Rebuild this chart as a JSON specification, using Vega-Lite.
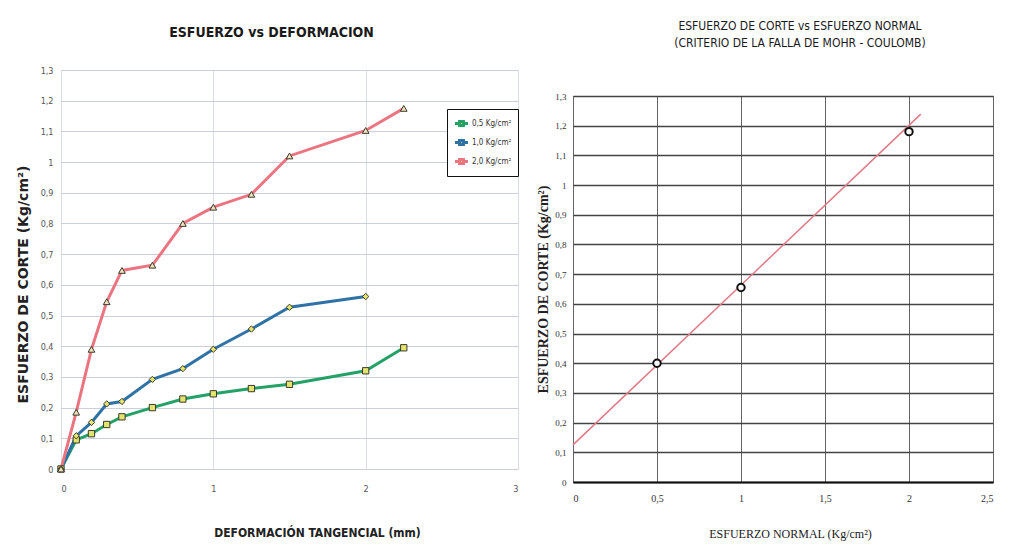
{
  "$schema": "https://vega.github.io/schema/vega-lite/v6.json",
  "background": "white",
  "padding": {"left": 16, "top": 20, "right": 5, "bottom": 5},
  "spacing": 18,
  "datasets": {
    "def": [
      {"d": 0, "t": 0, "s": "0,5 Kg/cm²"},
      {"d": 0.1, "t": 0.095, "s": "0,5 Kg/cm²"},
      {"d": 0.2, "t": 0.115, "s": "0,5 Kg/cm²"},
      {"d": 0.3, "t": 0.145, "s": "0,5 Kg/cm²"},
      {"d": 0.4, "t": 0.17, "s": "0,5 Kg/cm²"},
      {"d": 0.6, "t": 0.2, "s": "0,5 Kg/cm²"},
      {"d": 0.8, "t": 0.228, "s": "0,5 Kg/cm²"},
      {"d": 1.0, "t": 0.245, "s": "0,5 Kg/cm²"},
      {"d": 1.25, "t": 0.262, "s": "0,5 Kg/cm²"},
      {"d": 1.5, "t": 0.276, "s": "0,5 Kg/cm²"},
      {"d": 2.0, "t": 0.32, "s": "0,5 Kg/cm²"},
      {"d": 2.25, "t": 0.395, "s": "0,5 Kg/cm²"},
      {"d": 0, "t": 0, "s": "1,0 Kg/cm²"},
      {"d": 0.1, "t": 0.108, "s": "1,0 Kg/cm²"},
      {"d": 0.2, "t": 0.152, "s": "1,0 Kg/cm²"},
      {"d": 0.3, "t": 0.212, "s": "1,0 Kg/cm²"},
      {"d": 0.4, "t": 0.22, "s": "1,0 Kg/cm²"},
      {"d": 0.6, "t": 0.292, "s": "1,0 Kg/cm²"},
      {"d": 0.8, "t": 0.327, "s": "1,0 Kg/cm²"},
      {"d": 1.0, "t": 0.39, "s": "1,0 Kg/cm²"},
      {"d": 1.25, "t": 0.456, "s": "1,0 Kg/cm²"},
      {"d": 1.5, "t": 0.527, "s": "1,0 Kg/cm²"},
      {"d": 2.0, "t": 0.562, "s": "1,0 Kg/cm²"},
      {"d": 0, "t": 0, "s": "2,0 Kg/cm²"},
      {"d": 0.1, "t": 0.185, "s": "2,0 Kg/cm²"},
      {"d": 0.2, "t": 0.39, "s": "2,0 Kg/cm²"},
      {"d": 0.3, "t": 0.545, "s": "2,0 Kg/cm²"},
      {"d": 0.4, "t": 0.647, "s": "2,0 Kg/cm²"},
      {"d": 0.6, "t": 0.664, "s": "2,0 Kg/cm²"},
      {"d": 0.8, "t": 0.8, "s": "2,0 Kg/cm²"},
      {"d": 1.0, "t": 0.853, "s": "2,0 Kg/cm²"},
      {"d": 1.25, "t": 0.895, "s": "2,0 Kg/cm²"},
      {"d": 1.5, "t": 1.02, "s": "2,0 Kg/cm²"},
      {"d": 2.0, "t": 1.103, "s": "2,0 Kg/cm²"},
      {"d": 2.25, "t": 1.175, "s": "2,0 Kg/cm²"}
    ],
    "mohr": [
      {"n": 0.5, "t": 0.4},
      {"n": 1.0, "t": 0.655},
      {"n": 2.0, "t": 1.18}
    ],
    "ajuste": [
      {"n": 0, "t": 0.125},
      {"n": 2.07, "t": 1.239}
    ],
    "vacio": []
  },
  "hconcat": [
    {
      "spacing": 0,
      "vconcat": [
        {
          "width": 457,
          "height": 14,
          "view": {"stroke": null},
          "data": {"name": "vacio"},
          "mark": "point",
          "title": {"text": "ESFUERZO vs DEFORMACION", "font": "DejaVu Sans Condensed, Roboto, sans-serif", "fontSize": 14, "fontWeight": "bold", "color": "#1a1a1a", "offset": 12, "anchor": "middle", "dx": -18}
        },
        {
          "width": 457,
          "height": 399,
          "view": {"stroke": null},
          "data": {"name": "def"},
          "encoding": {
            "x": {"field": "d", "type": "quantitative", "scale": {"domain": [0, 3], "nice": false},
              "axis": {"values": [0, 1, 2, 3], "title": "DEFORMACIÓN TANGENCIAL (mm)", "grid": true, "gridColor": "#d8dde6", "domain": false, "ticks": false,
                "labelFont": "DejaVu Sans Condensed, Roboto, sans-serif", "labelFontSize": 9, "labelColor": "#555", "labelPadding": 15,
                "titleFont": "DejaVu Sans Condensed, Roboto, sans-serif", "titleFontSize": 12, "titleFontWeight": "bold", "titleColor": "#222", "titlePadding": 34, "titleX": 256}},
            "y": {"field": "t", "type": "quantitative", "scale": {"domain": [0, 1.3], "nice": false},
              "axis": {"values": [0, 0.1, 0.2, 0.3, 0.4, 0.5, 0.6, 0.7, 0.8, 0.9, 1, 1.1, 1.2, 1.3], "format": ".1~f", "labelExpr": "replace(datum.label, '.', ',')",
                "title": "ESFUERZO DE CORTE (Kg/cm²)", "grid": true, "gridColor": "#c9d0db", "domain": false, "ticks": false,
                "labelFont": "DejaVu Sans Condensed, Roboto, sans-serif", "labelFontSize": 9, "labelColor": "#555", "labelPadding": 8,
                "titleFont": "DejaVu Sans", "titleFontSize": 14, "titleFontWeight": "bold", "titleColor": "#222", "titlePadding": 10, "titleY": 214}},
            "color": {"field": "s", "type": "nominal",
              "scale": {"domain": ["0,5 Kg/cm²", "1,0 Kg/cm²", "2,0 Kg/cm²"], "range": ["#24a166", "#2f72a6", "#ea7580"]},
              "legend": {"title": null, "orient": "none", "legendX": 386, "legendY": 57, "strokeColor": "#111", "fillColor": "white",
                "padding": 6, "labelFont": "DejaVu Sans Condensed, Roboto, sans-serif", "labelFontSize": 8, "labelColor": "#333",
                "symbolType": "M-1,0H-0.3M0.3,0H1M-0.3,-0.3H0.3V0.3H-0.3Z", "symbolFillColor": "#e2e46e",
                "symbolStrokeWidth": 2, "symbolSize": 170, "rowPadding": 2, "labelOffset": 2}}
          },
          "layer": [
            {
              "mark": {"type": "line"},
              "encoding": {
                "strokeWidth": {"field": "s", "type": "nominal", "scale": {"domain": ["0,5 Kg/cm²", "1,0 Kg/cm²", "2,0 Kg/cm²"], "range": [3, 3, 2]}, "legend": null}
              }
            },
            {
              "transform": [{"filter": "datum.s == '0,5 Kg/cm²'"}],
              "mark": {"type": "point", "shape": "square", "size": 40, "filled": true, "fill": "#e2e46e", "stroke": "#3a3a2a", "strokeWidth": 1, "opacity": 1},
              "encoding": {"color": {"value": "#e2e46e"}}
            },
            {
              "transform": [{"filter": "datum.s == '1,0 Kg/cm²'"}],
              "mark": {"type": "point", "shape": "diamond", "size": 40, "filled": true, "fill": "#e2e46e", "stroke": "#3a3a2a", "strokeWidth": 1, "opacity": 1},
              "encoding": {"color": {"value": "#e2e46e"}}
            },
            {
              "transform": [{"filter": "datum.s == '2,0 Kg/cm²'"}],
              "mark": {"type": "point", "shape": "triangle-up", "size": 45, "filled": true, "fill": "#efe3bd", "stroke": "#3a3a2a", "strokeWidth": 1, "opacity": 1},
              "encoding": {"color": {"value": "#efe3bd"}}
            }
          ]
        }
      ]
    },
    {
      "spacing": 0,
      "vconcat": [
        {
          "width": 420,
          "height": 39,
          "view": {"stroke": null},
          "data": {"name": "vacio"},
          "mark": "point",
          "title": {"text": ["ESFUERZO DE CORTE vs ESFUERZO NORMAL", "(CRITERIO DE LA FALLA DE MOHR - COULOMB)"], "font": "DejaVu Sans Condensed, Roboto, sans-serif", "fontSize": 12, "fontWeight": "normal", "lineHeight": 17, "color": "#1a1a1a", "offset": 2, "anchor": "middle", "dx": 17}
        },
        {
          "width": 420,
          "height": 386,
          "view": {"stroke": "#333"},
          "encoding": {
            "x": {"field": "n", "type": "quantitative", "scale": {"domain": [0, 2.5], "nice": false},
              "axis": {"values": [0, 0.5, 1, 1.5, 2, 2.5], "format": ".1~f", "labelExpr": "replace(datum.label, '.', ',')", "title": "ESFUERZO NORMAL (Kg/cm²)",
                "grid": true, "gridColor": "#666", "gridWidth": 1, "domain": true, "domainColor": "#111", "domainWidth": 2, "ticks": false,
                "labelFont": "Liberation Serif", "labelFontSize": 10, "labelColor": "#333", "labelPadding": 11,
                "titleFont": "Liberation Serif", "titleFontSize": 12, "titleFontWeight": "normal", "titleColor": "#222", "titlePadding": 25, "titleX": 217}},
            "y": {"field": "t", "type": "quantitative", "scale": {"domain": [0, 1.3], "nice": false},
              "axis": {"values": [0, 0.1, 0.2, 0.3, 0.4, 0.5, 0.6, 0.7, 0.8, 0.9, 1, 1.1, 1.2, 1.3], "format": ".1~f", "labelExpr": "replace(datum.label, '.', ',')",
                "title": "ESFUERZO DE CORTE (Kg/cm²)", "grid": true, "gridColor": "#444", "gridWidth": 1.3, "domain": false, "ticks": false,
                "labelFont": "Liberation Serif", "labelFontSize": 9, "labelColor": "#333", "labelPadding": 7,
                "titleFont": "Liberation Serif", "titleFontSize": 14, "titleFontWeight": "bold", "titleColor": "#222", "titlePadding": 4}}
          },
          "layer": [
            {
              "data": {"name": "ajuste"},
              "mark": {"type": "line", "color": "#e07a86", "strokeWidth": 1.5}
            },
            {
              "data": {"name": "mohr"},
              "mark": {"type": "point", "shape": "circle", "size": 55, "filled": false, "stroke": "#111", "strokeWidth": 2, "fill": "white", "opacity": 1}
            }
          ]
        }
      ]
    }
  ]
}
